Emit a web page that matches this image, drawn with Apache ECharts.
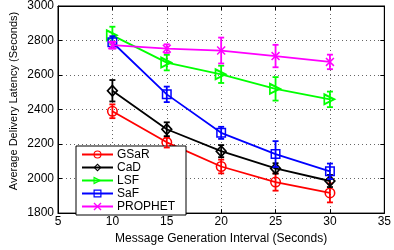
<!DOCTYPE html>
<html><head><meta charset="utf-8">
<script src="https://cdn.jsdelivr.net/npm/echarts@6/dist/echarts.min.js"></script>
<style>html,body{margin:0;padding:0;background:#fff}#c{width:394px;height:250px}</style>
</head><body><div id="c"></div>
<script>
const xValues = [10, 15, 20, 25, 30];
const gsar = [2390, 2210, 2070, 1980, 1917];
const gsarErr = [40, 30, 40, 50, 55];
const cad = [2509, 2286, 2159, 2059, 1986];
const cadErr = [62, 40, 35, 30, 35];
const lsf = [2830, 2672, 2604, 2520, 2459];
const lsfErr = [50, 45, 50, 68, 45];
const saf = [2790, 2488, 2265, 2142, 2042];
const safErr = [35, 45, 35, 75, 45];
const prophet = [2773, 2753, 2742, 2710, 2676];
const prophetErr = [20, 25, 75, 65, 42];
const names = ['GSaR', 'CaD', 'LSF', 'SaF', 'PROPHET'];
const colors = ['#ff0000', '#000000', '#00ff00', '#0000ff', '#ff00ff'];
const FONT = 'Liberation Sans';

const chart = echarts.init(document.getElementById('c'), null, {renderer: 'canvas'});
const vals = [gsar, cad, lsf, saf, prophet];
const errs = [gsarErr, cadErr, lsfErr, safErr, prophetErr];
// hollow marker outlines drawn as filled rings
const symbols = [
  'path://M5,0A5,5 0 1,1 5,10A5,5 0 1,1 5,0Z M5,1.4A3.6,3.6 0 1,0 5,8.6A3.6,3.6 0 1,0 5,1.4Z',
  'path://M5,0L10,5L5,10L0,5Z M5,1.9L1.9,5L5,8.1L8.1,5Z',
  'path://M0,0L10,5L0,10Z M1.3,2.4L1.3,7.6L6.6,5Z',
  'path://M0,0L10,0L10,10L0,10Z M1.5,1.5L1.5,8.5L8.5,8.5L8.5,1.5Z',
  'path://M0,1.2L1.2,0L5,3.8L8.8,0L10,1.2L6.2,5L10,8.8L8.8,10L5,6.2L1.2,10L0,8.8L3.8,5Z'
];
const sizes = [[11, 11], [12, 13], [13, 13], [10, 10], [9, 9]];

const series = [];
for (let i = 0; i < 5; i++) {
  series.push({
    type: 'line', name: names[i],
    data: xValues.map((x, j) => [x, vals[i][j]]),
    symbol: symbols[i], symbolSize: sizes[i],
    lineStyle: {color: colors[i], width: 1.8},
    itemStyle: {color: colors[i]},
    z: 3 + i * 2
  });
  const col = colors[i];
  series.push({
    type: 'custom', name: names[i] + '_err',
    data: xValues.map((x, j) => [x, vals[i][j] - errs[i][j], vals[i][j] + errs[i][j]]),
    z: 4 + i * 2,
    renderItem: function (params, api) {
      const x = api.value(0);
      const p1 = api.coord([x, api.value(2)]);
      const p2 = api.coord([x, api.value(1)]);
      const hw = 3;
      const st = {stroke: col, lineWidth: 1.8};
      return {type: 'group', children: [
        {type: 'line', shape: {x1: p1[0], y1: p1[1], x2: p2[0], y2: p2[1]}, style: st},
        {type: 'line', shape: {x1: p1[0] - hw, y1: p1[1], x2: p1[0] + hw, y2: p1[1]}, style: st},
        {type: 'line', shape: {x1: p2[0] - hw, y1: p2[1], x2: p2[0] + hw, y2: p2[1]}, style: st}
      ]};
    }
  });
}

const gridLine = {show: true, lineStyle: {color: '#666', type: [1, 3], width: 1}};
chart.setOption({
  animation: false,
  grid: {left: 58, right: 1, top: 5, bottom: 30, show: true, borderColor: '#000', borderWidth: 1},
  xAxis: [{
    type: 'value', min: 5, max: 35, interval: 5,
    axisLine: {show: true, lineStyle: {color: '#000'}},
    axisTick: {inside: true, length: 4, lineStyle: {color: '#000'}},
    axisLabel: {color: '#000', fontFamily: FONT, fontSize: 12, margin: 3},
    splitLine: gridLine,
    name: 'Message Generation Interval (Seconds)', nameLocation: 'middle', nameGap: 17,
    nameTextStyle: {color: '#000', fontFamily: FONT, fontSize: 12}
  }, {
    type: 'value', min: 5, max: 35, interval: 5, position: 'top',
    axisLine: {show: true, lineStyle: {color: '#000'}},
    axisTick: {inside: true, length: 4, lineStyle: {color: '#000'}},
    axisLabel: {show: false}, splitLine: {show: false}
  }],
  yAxis: [{
    type: 'value', min: 1800, max: 3000, interval: 200,
    axisLine: {show: true, lineStyle: {color: '#000'}},
    axisTick: {show: true, inside: true, length: 4, lineStyle: {color: '#000'}},
    axisLabel: {color: '#000', fontFamily: FONT, fontSize: 12, margin: 4, formatter: v => String(v)},
    splitLine: gridLine
  }, {
    type: 'value', min: 1800, max: 3000, interval: 200, position: 'right',
    axisLine: {show: true, lineStyle: {color: '#000'}},
    axisTick: {show: true, inside: true, length: 4, lineStyle: {color: '#000'}},
    axisLabel: {show: false}, splitLine: {show: false}
  }],
  legend: {
    orient: 'vertical', left: 76, top: 146,
    data: names,
    itemWidth: 31, itemHeight: 10, itemGap: 0,
    padding: [2, 11, 2, 5],
    borderColor: '#000', borderWidth: 1, backgroundColor: '#fff',
    textStyle: {color: '#000', fontFamily: FONT, fontSize: 12, lineHeight: 13, padding: [0, 0, 0, -1]}
  },
  graphic: [{
    type: 'text', x: 14, y: 101, rotation: Math.PI / 2,
    style: {text: 'Average Delivery Latency (Seconds)', fill: '#000', font: '11px "Liberation Sans"', align: 'center', verticalAlign: 'middle'}
  }],
  series: series
});
</script></body></html>
